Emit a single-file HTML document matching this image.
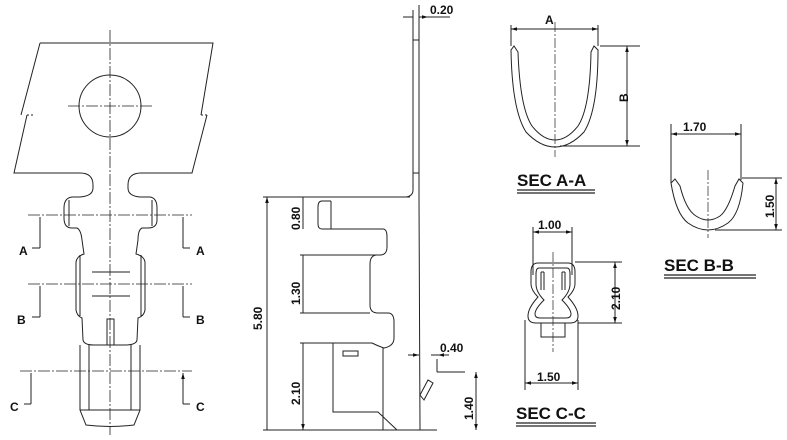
<!DOCTYPE html>
<html><head><meta charset="utf-8"><style>
html,body{margin:0;padding:0;background:#fff;}
svg{display:block;}
text{font-family:"Liberation Sans",Arial,sans-serif;font-weight:bold;fill:#111;}
</style></head><body>
<svg width="787" height="440" viewBox="0 0 787 440" xmlns="http://www.w3.org/2000/svg">
<defs>
<marker id="ar" viewBox="0 0 10 10" refX="10" refY="5" markerWidth="6" markerHeight="6" orient="auto-start-reverse"><path d="M0,2 L10,5 L0,8z" fill="#111"/></marker>
</defs>
<g fill="none" stroke="#222" stroke-width="1">
<!-- LEFT VIEW -->
<path d="M40,43 H213 L201,115 M207,115 L192,173 H141 Q128,173 128,185 V188 Q128,196 140,197 H150 Q157,198 157,208 V220 Q157,228 148,228 H142 Q138,230 138,240 L136,254 Q144,256 145,262 V310 Q144,316 138,318 L137,340 Q136,345 125,345 H94 Q84,345 83,340 L82,318 Q77,316 76,310 V262 Q77,256 84,254 L82,240 Q81,230 77,228 H72 Q64,228 64,218 V208 Q64,198 72,197 H80 Q93,196 93,188 V185 Q93,173 80,173 H14 L27,115 M21,115 L40,43"/>
<path d="M27,115 H33 M201,115 H207" stroke-dasharray="2,2"/>
<circle cx="110" cy="106" r="31"/>
<path d="M69,200 V226 M152,200 V226 M80,255 V316 M141,255 V316"/>
<path d="M92,272 H130 M92,296 H130"/>
<rect x="107" y="319" width="7" height="26"/>
<path d="M80,345 V410 L86,425 Q110,428 134,425 L140,410 V345 M89,345 V410 M131,345 V410 M80,410 H140"/>
<path d="M110,30 V435 M68,106 H152 M28,215 H192 M28,284 H192 M20,371 H192" stroke-dasharray="12,2,2,2" stroke-width="0.8"/>
<path d="M40,248 V217 M183,248 V217 M40,317 V286 M183,317 V286 M31,404 V373 M183,404 V373" marker-end="url(#ar)"/>
<path d="M40,248 H32 M183,248 H190 M40,317 H32 M183,317 H190 M31,404 H24 M183,404 H190"/>
<!-- MIDDLE VIEW -->
<path d="M413,10 V190 Q413,196 406,197 M419,10 V197 L420,430 M263,197 H410 M263,430 H437"/>
<path d="M413,40 H419 M413,173 H419"/>
<path d="M403,17 H413 M419,17 H428" marker-end="url(#ar)"/>
<path d="M428,17 H450 M413,10 V20 M419,5 V20"/>
<path d="M331,201 H322 Q318,201 318,207 V224 Q318,229 322,229 H383 Q387,229 387,237 V247 Q387,255 380,255 H376 Q370,256 370,264 V305 Q370,313 378,313 H388 Q394,313 394,322 V338 Q394,346 384,348 Q378,346 372,343 L361,343 H300 M300,313 H370 M300,255 H376 M331,201 V229 M383,348 V430"/>
<path d="M333,343 V412 H378 L397,430"/>
<rect x="343" y="351" width="15" height="5"/>
<path d="M420,395 L428,380 L433,383 L424,400 Z"/>
<path d="M437,372 H465 M437,359 V372 M431,355 H438" />
<path d="M408,355 H419" marker-end="url(#ar)"/><path d="M449,355 H438" marker-end="url(#ar)"/>
<path d="M267,197 V430 M303,197 V229 M303,255 V313 M303,343 V430" marker-start="url(#ar)" marker-end="url(#ar)"/>
<path d="M476,372 V430" marker-start="url(#ar)" marker-end="url(#ar)"/>
<!-- SEC A-A -->
<path d="M511,50 Q512,110 526,132 Q540,147 555,147 Q570,147 584,132 Q598,110 598,50 L594,46 L591,52 Q590,108 578,126 Q567,140 555,140 Q543,140 532,126 Q520,108 518,52 L514,46 Z"/>
<path d="M555,22 V157" stroke-dasharray="10,2,2,2" stroke-width="0.7"/>
<path d="M511,25 V46 M598,25 V46 M600,46 H640 M560,146 H640"/>
<path d="M511,29 H598" marker-start="url(#ar)" marker-end="url(#ar)"/>
<path d="M627,46 V146" marker-start="url(#ar)" marker-end="url(#ar)"/>
<path d="M517,190 H595 M517,193 H595" stroke-width="1.2"/>
<!-- SEC B-B -->
<path d="M671,183 Q676,214 688,223 Q698,230 708,230 Q718,230 728,223 Q740,214 743,183 L739,179 L735,186 Q728,210 720,216 Q714,220 708,220 Q702,220 696,216 Q686,210 680,186 L675,179 Z"/>
<path d="M708,170 V238" stroke-dasharray="10,2,2,2" stroke-width="0.7"/>
<path d="M671,124 V183 M741,124 V180 M742,178 H782 M715,230 H782"/>
<path d="M671,134 H741" marker-start="url(#ar)" marker-end="url(#ar)"/>
<path d="M776,178 V230" marker-start="url(#ar)" marker-end="url(#ar)"/>
<path d="M664,275 H756 M664,278 H756" stroke-width="1.2"/>
<!-- SEC C-C -->
<path d="M538,263 H568 Q575,263 575,272 V284 Q575,290 568,297 Q578,308 578,316 Q578,323 570,323 H536 Q528,323 528,316 Q528,308 538,297 Q531,290 531,284 V272 Q531,263 538,263 Z"/>
<path d="M539,268 H567 Q570,268 570,274 V284 Q570,292 562,300 Q571,309 571,314 Q571,318 566,318 H540 Q535,318 535,314 Q535,309 544,300 Q536,292 536,284 V274 Q536,268 539,268 Z"/>
<path d="M541,272 V290 M544,272 V290 M541,272 H544 M562,272 V290 M565,272 V290 M562,272 H565"/>
<rect x="541" y="323" width="24" height="14"/>
<path d="M553,252 V352" stroke-dasharray="10,2,2,2" stroke-width="0.7"/>
<path d="M533,227 V275 M572,227 V275 M575,262 H622 M578,323 H622 M525,320 V390 M578,320 V390"/>
<path d="M533,232 H572" marker-start="url(#ar)" marker-end="url(#ar)"/>
<path d="M615,262 V323" marker-start="url(#ar)" marker-end="url(#ar)"/>
<path d="M525,383 H578" marker-start="url(#ar)" marker-end="url(#ar)"/>
<path d="M516,423 H596 M516,426 H596" stroke-width="1.2"/>
</g>
<!-- labels -->
<g font-size="12">
<text x="19" y="255">A</text><text x="196" y="255">A</text>
<text x="17" y="324">B</text><text x="196" y="324">B</text>
<text x="10" y="411">C</text><text x="196" y="411">C</text>
<text x="430" y="14">0.20</text>
<text x="440" y="352">0.40</text>
<text x="545" y="24">A</text>
<text x="683" y="131">1.70</text>
<text x="538" y="229">1.00</text>
<text x="537" y="381">1.50</text>
</g>
<g font-size="12">
<text transform="translate(300,230) rotate(-90)">0.80</text>
<text transform="translate(300,305) rotate(-90)">1.30</text>
<text transform="translate(262,330) rotate(-90)">5.80</text>
<text transform="translate(300,405) rotate(-90)">2.10</text>
<text transform="translate(473,420) rotate(-90)">1.40</text>
<text transform="translate(628,102) rotate(-90)">B</text>
<text transform="translate(774,218) rotate(-90)">1.50</text>
<text transform="translate(620,310) rotate(-90)">2.10</text>
</g>
<g font-size="17">
<text x="517" y="186">SEC  A-A</text>
<text x="664" y="271">SEC  B-B</text>
<text x="516" y="419">SEC  C-C</text>
</g>
</svg>
</body></html>
